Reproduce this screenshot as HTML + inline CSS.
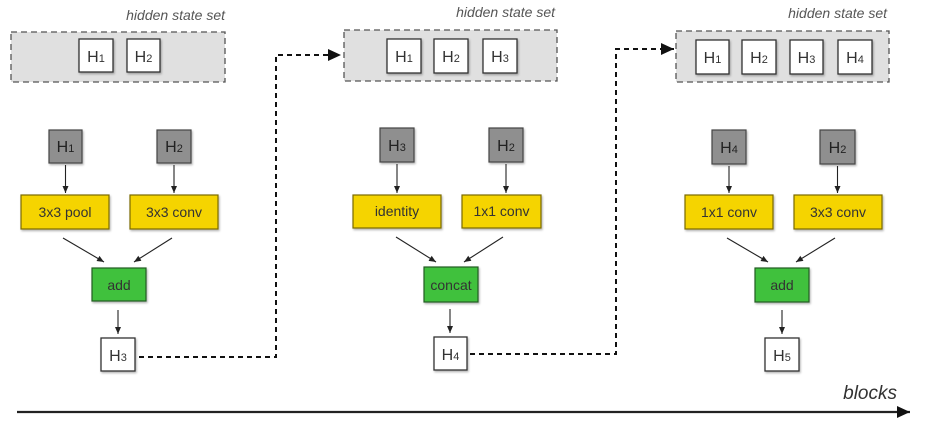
<!DOCTYPE html>
<html><head><meta charset="utf-8"><style>
html,body{margin:0;padding:0;background:#fff;}
svg{display:block;}
text{font-family:"Liberation Sans",sans-serif;}
</style></head><body>
<svg width="926" height="430" viewBox="0 0 926 430" xmlns="http://www.w3.org/2000/svg">
<defs>
<marker id="a" markerWidth="8" markerHeight="8" refX="7" refY="4" orient="auto" markerUnits="userSpaceOnUse"><path d="M0,1 L7,4 L0,7 Z" fill="#222"/></marker>
<marker id="b" markerWidth="14" markerHeight="12" refX="13" refY="6" orient="auto" markerUnits="userSpaceOnUse"><path d="M0,0 L13,6 L0,12 Z" fill="#111"/></marker>
<filter id="s" x="-20%" y="-20%" width="150%" height="150%"><feDropShadow dx="1" dy="1.5" stdDeviation="1" flood-color="#000" flood-opacity="0.3"/></filter>
</defs>

<!-- hidden state sets -->
<g font-style="italic" font-size="14" fill="#555" text-anchor="end">
<text x="225" y="20">hidden state set</text>
<text x="555" y="17">hidden state set</text>
<text x="887" y="18">hidden state set</text>
</g>
<g fill="#e0e0e0" stroke="#555" stroke-width="1.3" stroke-dasharray="6,4">
<rect x="11" y="32" width="214" height="50"/>
<rect x="344" y="30" width="213" height="51"/>
<rect x="676" y="31" width="213" height="51"/>
</g>
<g fill="#fff" stroke="#333" stroke-width="1.3" filter="url(#s)">
<rect x="79" y="39" width="34" height="33"/><rect x="127" y="39" width="33" height="33"/>
<rect x="387" y="39" width="34" height="34"/><rect x="434" y="39" width="34" height="34"/><rect x="483" y="39" width="34" height="34"/>
<rect x="696" y="40" width="33" height="34"/><rect x="742" y="40" width="34" height="34"/><rect x="790" y="40" width="33" height="34"/><rect x="838" y="40" width="34" height="34"/>
<rect x="101" y="338" width="34" height="33"/><rect x="434" y="337" width="33" height="33"/><rect x="765" y="338" width="34" height="33"/>
</g>
<!-- gray inputs -->
<g fill="#8f8f8f" stroke="#444" stroke-width="1.2" filter="url(#s)">
<rect x="49" y="130" width="33" height="33"/><rect x="157" y="130" width="34" height="33"/>
<rect x="380" y="128" width="34" height="34"/><rect x="489" y="128" width="34" height="34"/>
<rect x="712" y="130" width="34" height="34"/><rect x="820" y="130" width="35" height="34"/>
</g>
<!-- yellow ops -->
<g fill="#f5d400" stroke="#7a6a00" stroke-width="1.2" filter="url(#s)">
<rect x="21" y="195" width="88" height="34"/><rect x="130" y="195" width="88" height="34"/>
<rect x="353" y="195" width="88" height="33"/><rect x="462" y="195" width="79" height="33"/>
<rect x="685" y="195" width="88" height="34"/><rect x="794" y="195" width="88" height="34"/>
</g>
<!-- green -->
<g fill="#41c13e" stroke="#245c22" stroke-width="1.2" filter="url(#s)">
<rect x="92" y="268" width="54" height="33"/><rect x="424" y="267" width="54" height="35"/><rect x="755" y="268" width="54" height="34"/>
</g>

<!-- H labels -->
<g font-size="16" fill="#333" text-anchor="middle">
<text x="96" y="62">H<tspan font-size="11">1</tspan></text>
<text x="143.5" y="62">H<tspan font-size="11">2</tspan></text>
<text x="404" y="62">H<tspan font-size="11">1</tspan></text>
<text x="451" y="62">H<tspan font-size="11">2</tspan></text>
<text x="500" y="62">H<tspan font-size="11">3</tspan></text>
<text x="712.5" y="63">H<tspan font-size="11">1</tspan></text>
<text x="759" y="63">H<tspan font-size="11">2</tspan></text>
<text x="806.5" y="63">H<tspan font-size="11">3</tspan></text>
<text x="855" y="63">H<tspan font-size="11">4</tspan></text>
<text x="118" y="361">H<tspan font-size="11">3</tspan></text>
<text x="450.5" y="360">H<tspan font-size="11">4</tspan></text>
<text x="782" y="361">H<tspan font-size="11">5</tspan></text>
</g>
<g font-size="16" fill="#222" text-anchor="middle">
<text x="65.5" y="152">H<tspan font-size="11">1</tspan></text>
<text x="174" y="152">H<tspan font-size="11">2</tspan></text>
<text x="397" y="151">H<tspan font-size="11">3</tspan></text>
<text x="506" y="151">H<tspan font-size="11">2</tspan></text>
<text x="729" y="153">H<tspan font-size="11">4</tspan></text>
<text x="837.5" y="153">H<tspan font-size="11">2</tspan></text>
</g>
<g font-size="14" fill="#333" text-anchor="middle">
<text x="65" y="217">3x3 pool</text><text x="174" y="217">3x3 conv</text>
<text x="397" y="216">identity</text><text x="501.5" y="216">1x1 conv</text>
<text x="729" y="217">1x1 conv</text><text x="838" y="217">3x3 conv</text>
<text x="119" y="290">add</text><text x="451" y="290">concat</text><text x="782" y="290">add</text>
</g>

<!-- arrows -->
<g stroke="#222" stroke-width="1.1" marker-end="url(#a)">
<line x1="65.5" y1="165" x2="65.5" y2="193"/><line x1="174" y1="165" x2="174" y2="193"/>
<line x1="397" y1="164" x2="397" y2="193"/><line x1="506" y1="164" x2="506" y2="193"/>
<line x1="729" y1="166" x2="729" y2="193"/><line x1="837.5" y1="166" x2="837.5" y2="193"/>
<line x1="63" y1="238" x2="104" y2="262"/><line x1="172" y1="238" x2="134" y2="262"/>
<line x1="396" y1="237" x2="436" y2="262"/><line x1="503" y1="237" x2="464" y2="262"/>
<line x1="727" y1="238" x2="768" y2="262"/><line x1="835" y1="238" x2="796" y2="262"/>
<line x1="118" y1="310" x2="118" y2="334"/><line x1="450" y1="309" x2="450" y2="333"/><line x1="782" y1="310" x2="782" y2="334"/>
</g>

<!-- dashed connectors -->
<g fill="none" stroke="#111" stroke-width="2" stroke-dasharray="5,4" marker-end="url(#b)">
<polyline points="139,357 276,357 276,55 341,55"/>
<polyline points="470,354 616,354 616,49 674,49"/>
</g>

<!-- axis -->
<line x1="17" y1="412" x2="910" y2="412" stroke="#222" stroke-width="2.2" marker-end="url(#b)"/>
<text x="897" y="399" font-size="19" font-style="italic" fill="#333" text-anchor="end">blocks</text>
</svg>
</body></html>
